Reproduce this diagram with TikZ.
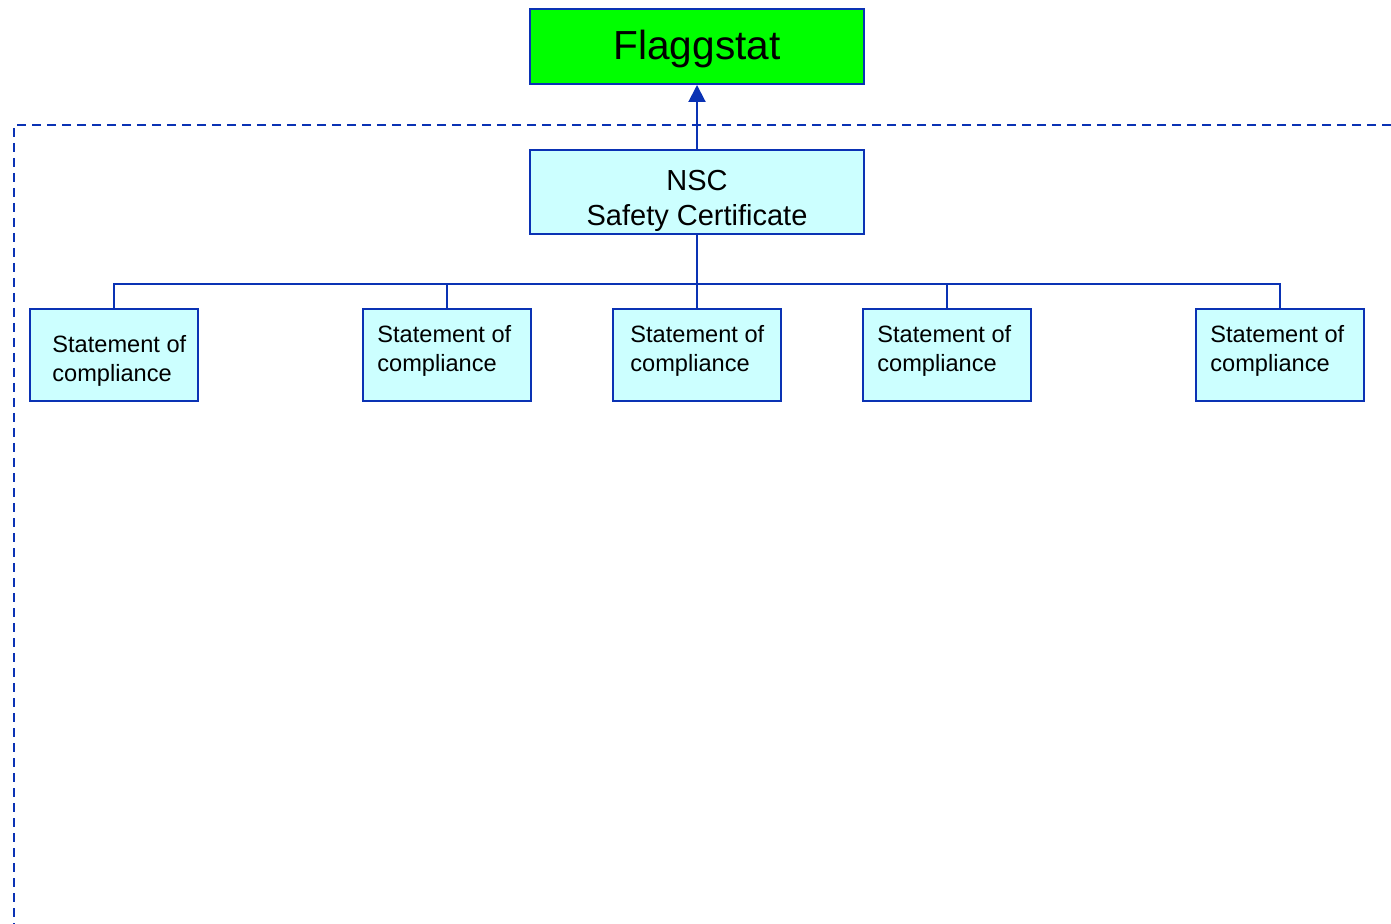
\documentclass[tikz,border=0pt]{standalone}
\usepackage{fontspec}
\setmainfont{Liberation Sans}
\usetikzlibrary{arrows.meta}
\definecolor{lineblue}{RGB}{10,50,180}
\definecolor{flaggreen}{RGB}{0,255,0}
\definecolor{certcyan}{RGB}{204,255,255}
\begin{document}
\begin{tikzpicture}[x=0.5pt,y=-0.5pt,
        box/.style={draw=lineblue,line width=1pt,inner sep=0pt},
        soc/.style={box,fill=certcyan,minimum width=84pt,minimum height=46pt},
        soctext/.style={anchor=north west,align=left,inner sep=0pt,font=\fontsize{11.8}{14.5}\selectfont},
        wire/.style={draw=lineblue,line width=1pt}]
        \useasboundingbox (0,0) rectangle (1391,924);
        % frame
        \draw[lineblue,line width=1pt,dash pattern=on 4.5pt off 3pt] (1391,125) -- (14,125) -- (14,924);
        % top
        \node at (697,46.5)[box,fill=flaggreen,minimum width=167pt,minimum height=37.5pt,
            font=\fontsize{20.3}{24}\selectfont,text height=16pt,text depth=2.5pt] (flag) {Flaggstat};
        \node at (697,192)[box,fill=certcyan,minimum width=167pt,minimum height=42pt] (nsc) {};
        \node at (697,201)[align=center,inner sep=0pt,font=\fontsize{14.5}{17.5}\selectfont] (nsctxt) {NSC\\Safety Certificate};
        \draw[wire,-{Triangle[width=8.5pt,length=8.5pt]}] (nsc.north) -- (flag.south);
        % statements
        \coordinate (bus) at (697,284);
        \draw[wire] (nsc.south) -- (bus);
        \foreach \n/\x in {1/114,2/447,3/697,4/947,5/1280}
        {
            \node at (\x,355)[soc] (soc\n) {};
            \draw[wire] (bus) -| (soc\n.north);
        }
        \node at (52,335)[soctext] (soctxt1) {Statement of\\compliance};
        \foreach \n/\x in {2/377,3/630,4/877,5/1210}
        {
            \node at (\x,325)[soctext] (soctxt\n) {Statement of\\compliance};
        }
\end{tikzpicture}
\end{document}
